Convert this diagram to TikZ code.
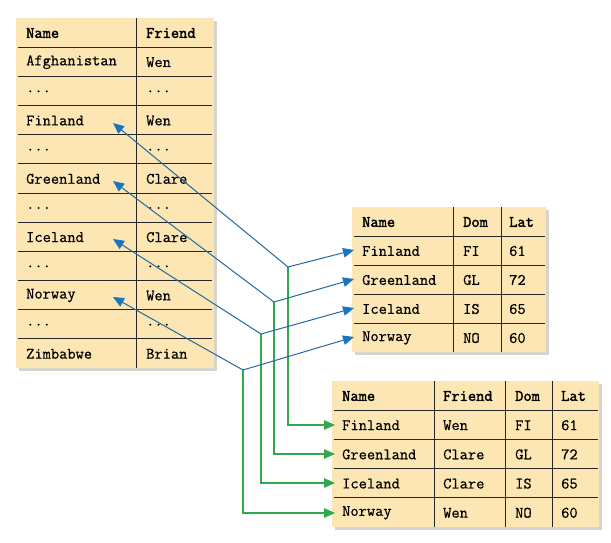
\documentclass[tikz,border=0pt]{standalone}
\usepackage{fontspec}
\newfontfamily\cellfont{Latin Modern Mono}[FakeBold=0.6]
\newfontfamily\headfont{Latin Modern Mono}[FakeBold=2.2]
\usetikzlibrary{arrows.meta}
\definecolor{cellfill}{HTML}{FCE6B3}
\definecolor{shadowc}{HTML}{D8D4CC}
\definecolor{bluel}{HTML}{2469A0}
\definecolor{bluetip}{HTML}{1B75BC}
\definecolor{greenl}{HTML}{2FA84F}
\newcommand\LTrow[3]{%
  \pgfmathsetmacro\yy{33+29.167*#1}%
  \node[cell] (L#1a) at (26,\yy) {#2};
  \node[cell] (L#1b) at (146,\yy) {#3};}
\newcommand\MTrow[4]{%
  \pgfmathsetmacro\yy{222+29*#1}%
  \node[cell] (M#1a) at (362,\yy) {#2};
  \node[cell] (M#1b) at (463,\yy) {#3};
  \node[cell] (M#1c) at (509,\yy) {#4};}
\newcommand\RTrow[5]{%
  \pgfmathsetmacro\yy{396+29.2*#1}%
  \node[cell] (R#1a) at (342,\yy) {#2};
  \node[cell] (R#1b) at (443,\yy) {#3};
  \node[cell] (R#1c) at (515,\yy) {#4};
  \node[cell] (R#1d) at (561,\yy) {#5};}
\begin{document}
\begin{tikzpicture}[x=1pt,y=-1pt,
  cell/.style={anchor=west, inner sep=0pt, font=\cellfont\fontsize{16}{16}\selectfont},
  grid/.style={draw=black!85, line width=0.9pt},
  tablebg/.style={fill=cellfill},
  shade/.style={fill=shadowc},
  bluearrow/.style={draw=bluel, line width=1pt, -{Triangle[length=11pt,width=9.5pt,fill=bluetip,color=bluetip]}},
  greenarrow/.style={draw=greenl, line width=1.2pt, -{Triangle[length=11pt,width=9.5pt]}}]
\useasboundingbox (0,0) rectangle (611,542);
\fill[white] (0,0) rectangle (611,542);
% ---------- left table ----------
\fill[shade] (19,21) rectangle (217,371);
\fill[tablebg] (16,18) rectangle (214,368);
\foreach \k in {1,...,11} {\draw[grid] (18,18+29.167*\k) -- (212,18+29.167*\k);}
\draw[grid] (136,18) -- (136,368);
\LTrow{0}{\headfont Name}{\headfont Friend}
\LTrow{1}{Afghanistan}{Wen}
\LTrow{2}{...}{...}
\LTrow{3}{Finland}{Wen}
\LTrow{4}{...}{...}
\LTrow{5}{Greenland}{Clare}
\LTrow{6}{...}{...}
\LTrow{7}{Iceland}{Clare}
\LTrow{8}{...}{...}
\LTrow{9}{Norway}{Wen}
\LTrow{10}{...}{...}
\LTrow{11}{Zimbabwe}{Brian}
% ---------- middle table ----------
\fill[shade] (355,210) rectangle (549,355);
\fill[tablebg] (352,207) rectangle (546,352);
\foreach \k in {1,...,4} {\draw[grid] (354,207+29*\k) -- (545,207+29*\k);}
\draw[grid] (453,207) -- (453,352);
\draw[grid] (501,207) -- (501,352);
\MTrow{0}{\headfont Name}{\headfont Dom}{\headfont Lat}
\MTrow{1}{Finland}{FI}{61}
\MTrow{2}{Greenland}{GL}{72}
\MTrow{3}{Iceland}{IS}{65}
\MTrow{4}{Norway}{NO}{60}
% ---------- right table ----------
\fill[shade] (335,384) rectangle (602,530);
\fill[tablebg] (332,381) rectangle (599,527);
\foreach \k in {1,...,4} {\draw[grid] (334,381+29.2*\k) -- (598,381+29.2*\k);}
\draw[grid] (434,381) -- (434,527);
\draw[grid] (505,381) -- (505,527);
\draw[grid] (552,381) -- (552,527);
\RTrow{0}{\headfont Name}{\headfont Friend}{\headfont Dom}{\headfont Lat}
\RTrow{1}{Finland}{Wen}{FI}{61}
\RTrow{2}{Greenland}{Clare}{GL}{72}
\RTrow{3}{Iceland}{Clare}{IS}{65}
\RTrow{4}{Norway}{Wen}{NO}{60}
% ---------- junctions and end points ----------
\coordinate (j1) at (288,267);
\coordinate (j2) at (274,302);
\coordinate (j3) at (261,334);
\coordinate (j4) at (243,370);
\coordinate (tl1) at (113,123);
\coordinate (tl2) at (113,181);
\coordinate (tl3) at (113,239);
\coordinate (tl4) at (113,297);
\coordinate (tm1) at (354,250);
\coordinate (tm2) at (354,279);
\coordinate (tm3) at (354,308);
\coordinate (tm4) at (354,337);
\coordinate (tr1) at (335,425);
\coordinate (tr2) at (335,454);
\coordinate (tr3) at (335,483);
\coordinate (tr4) at (335,513);
% ---------- green connectors ----------
\draw[greenarrow] (j1) |- (tr1);
\draw[greenarrow] (j2) |- (tr2);
\draw[greenarrow] (j3) |- (tr3);
\draw[greenarrow] (j4) |- (tr4);
% ---------- blue connectors ----------
\foreach \i in {1,...,4} {
  \draw[bluearrow] (j\i) -- (tl\i);
  \draw[bluearrow] (j\i) -- (tm\i);
}
\end{tikzpicture}
\end{document}
